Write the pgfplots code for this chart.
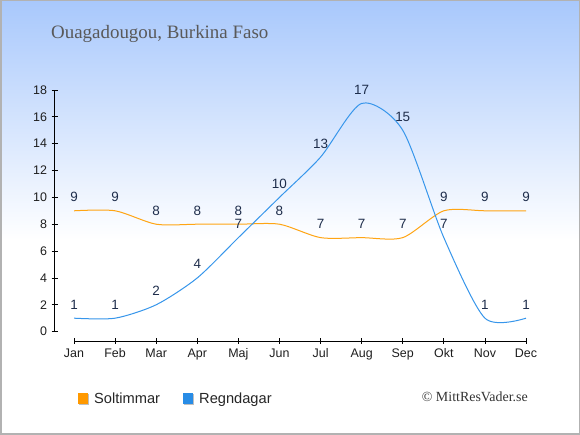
\documentclass[border=0pt]{standalone}
\usepackage{pgfplots}
\pgfplotsset{compat=1.18}
\usepackage{fontspec}
\setmainfont{Liberation Sans}
\newfontfamily\seriffont{Liberation Serif}
\definecolor{bgtop}{RGB}{168,200,252}
\definecolor{solc}{RGB}{255,165,20}
\definecolor{regc}{RGB}{55,150,235}
\definecolor{solsq}{RGB}{255,153,0}
\definecolor{regsq}{RGB}{40,140,230}
\definecolor{lblc}{RGB}{30,45,75}
\definecolor{tickc}{RGB}{30,30,30}
\pgfplotstableread{
m sol reg
1 9 1
2 9 1
3 8 2
4 8 4
5 8 7
6 8 10
7 7 13
8 7 17
9 7 15
10 9 7
11 9 1
12 9 1
}\datatab
\begin{document}
\begin{tikzpicture}[x=1bp,y=1bp]
\fill[white] (0,0) rectangle (580,435);
\shade[top color=bgtop, bottom color=white] (0,195) rectangle (580,435);
\draw[black!30, line width=1.5bp] (0.75,0.75) rectangle (579.25,434.25);
\node[anchor=base west, font=\seriffont\fontsize{19}{22}\selectfont, text=black!65, inner sep=0] at (51,396) {Ouagadougou, Burkina Faso};
\begin{axis}[
  at={(54.5bp,94bp)}, anchor=south west,
  width=471.5bp, height=251bp, scale only axis,
  xmin=0.525, xmax=12, ymin=-0.7, ymax=18,
  axis line style={draw=none},
  clip=false,
  /pgf/number format/assume math mode=true,
  xtick={1,...,12},
  xticklabels={Jan,Feb,Mar,Apr,Maj,Jun,Jul,Aug,Sep,Okt,Nov,Dec},
  ytick={0,2,...,18},
  xtick pos=bottom, ytick pos=left,
  tick align=center,
  major tick length=6bp,
  tick style={black, line width=0.8bp},
  ticklabel style={font=\fontsize{12.5}{14}\selectfont, text=tickc},
  yticklabel style={xshift=-1bp},
  xticklabel style={yshift=-1bp},
  nodes near coords,
  nodes near coords style={anchor=base, yshift=9bp, inner sep=0, font=\fontsize{13.5}{15}\selectfont, text=lblc},
]
\draw[black, line width=0.8bp] (axis cs:0.525,0) -- (axis cs:0.525,18);
\draw[black, line width=0.8bp] (axis cs:1,-0.7) -- (axis cs:12,-0.7);
\addplot[solc, line width=1bp, smooth, tension=0.45] table[x=m, y=sol] {\datatab};
\addplot[regc, line width=1bp, smooth, tension=0.45] table[x=m, y=reg] {\datatab};
\end{axis}
\fill[black!25] (78.5,30) rectangle (89,41);
\fill[solsq] (77.5,31) rectangle (88,42);
\node[anchor=base west, inner sep=0, font=\fontsize{14.7}{17}\selectfont, text=black!85] at (94,31) {Soltimmar};
\fill[black!25] (183.5,30) rectangle (194,41);
\fill[regsq] (182.5,31) rectangle (193,42);
\node[anchor=base west, inner sep=0, font=\fontsize{14.7}{17}\selectfont, text=black!85] at (199,31) {Regndagar};
\node[anchor=base east, inner sep=0, font=\seriffont\fontsize{14}{16}\selectfont, text=black!80] at (528,33) {© MittResVader.se};
\end{tikzpicture}
\end{document}
